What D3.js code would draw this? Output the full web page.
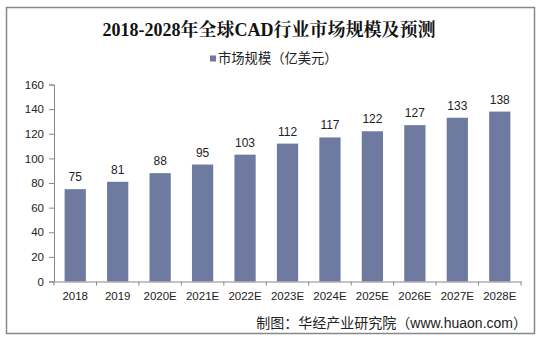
<!DOCTYPE html>
<html><head><meta charset="utf-8">
<script src="https://cdn.jsdelivr.net/npm/d3@7"></script>
<style>body{margin:0;background:#fff;}svg{display:block;}</style>
</head><body>
<script>
const categories = ["2018","2019","2020E","2021E","2022E","2023E","2024E","2025E","2026E","2027E","2028E"];
const values = [75,81,88,95,103,112,117,122,127,133,138];
const yTicks = [0,20,40,60,80,100,120,140,160];
const title = "2018-2028年全球CAD行业市场规模及预测";
const seriesName = "市场规模（亿美元）";
const source = "制图：华经产业研究院（www.huaon.com）";

const W = 540, H = 345;
const svg = d3.select("body").append("svg").attr("width", W).attr("height", H);
svg.append("rect").attr("x",6.5).attr("y",7.5).attr("width",528).attr("height",326)
  .attr("fill","#fff").attr("stroke","#888").attr("stroke-width",1.5);

const x = d3.scaleBand().domain(categories).range([54, 521]).paddingInner(0.5).paddingOuter(0.25);
const y = d3.scaleLinear().domain([0,160]).range([281.5, 84.5]);

const font = "'Liberation Sans', Arial, 'Noto Sans CJK SC', sans-serif";

svg.append("text").attr("x", 269).attr("y", 36).attr("text-anchor","middle")
  .attr("font-family","'Liberation Serif', 'Noto Serif CJK SC', 'Noto Sans CJK SC', serif")
  .attr("font-weight","bold").attr("font-size",18).attr("fill","#111").text(title);

svg.append("rect").attr("x",210).attr("y",55.5).attr("width",6).attr("height",6).attr("fill","#6E7AA0");
svg.append("text").attr("x",218).attr("y",63).attr("font-family",font).attr("font-size",13.3).attr("fill","#222").text(seriesName);

const bandStep = x.step();
// y axis
const ya = svg.append("g").attr("transform","translate(54,0)")
  .call(d3.axisLeft(y).tickValues(yTicks).tickSize(5).tickPadding(5));
ya.select(".domain").attr("stroke","#888");
ya.selectAll(".tick line").attr("stroke","#888");
ya.selectAll("text").attr("font-family",font).attr("font-size",11.5).attr("fill","#222");

// bars
svg.append("g").selectAll("rect").data(values).join("rect")
  .attr("x",(d,i)=>x(categories[i])).attr("width",x.bandwidth())
  .attr("y",d=>y(d)).attr("height",d=>y(0)-y(d)).attr("fill","#6E7AA0");

svg.append("g").selectAll("text").data(values).join("text")
  .attr("x",(d,i)=>x(categories[i])+x.bandwidth()/2).attr("y",d=>y(d)-8)
  .attr("text-anchor","middle").attr("font-family",font).attr("font-size",12).attr("fill","#222")
  .text(d=>d);

// x axis
const xa = svg.append("g").attr("transform",`translate(0,${y(0)})`)
  .call(d3.axisBottom(x).tickSize(0).tickPadding(10));
xa.select(".domain").attr("stroke","#888");
xa.selectAll("text").attr("font-family",font).attr("font-size",11.5).attr("fill","#222");
// tick marks between categories
const bounds = d3.range(categories.length+1).map(i => 54 + i*(467/categories.length));
xa.selectAll(".sep").data(bounds).join("line").attr("class","sep")
  .attr("x1",d=>d).attr("x2",d=>d).attr("y1",0).attr("y2",4).attr("stroke","#888");

svg.append("text").attr("x",527).attr("y",328).attr("text-anchor","end")
  .attr("font-family",font).attr("font-size",14).attr("fill","#222").text(source);
</script>
</body></html>
